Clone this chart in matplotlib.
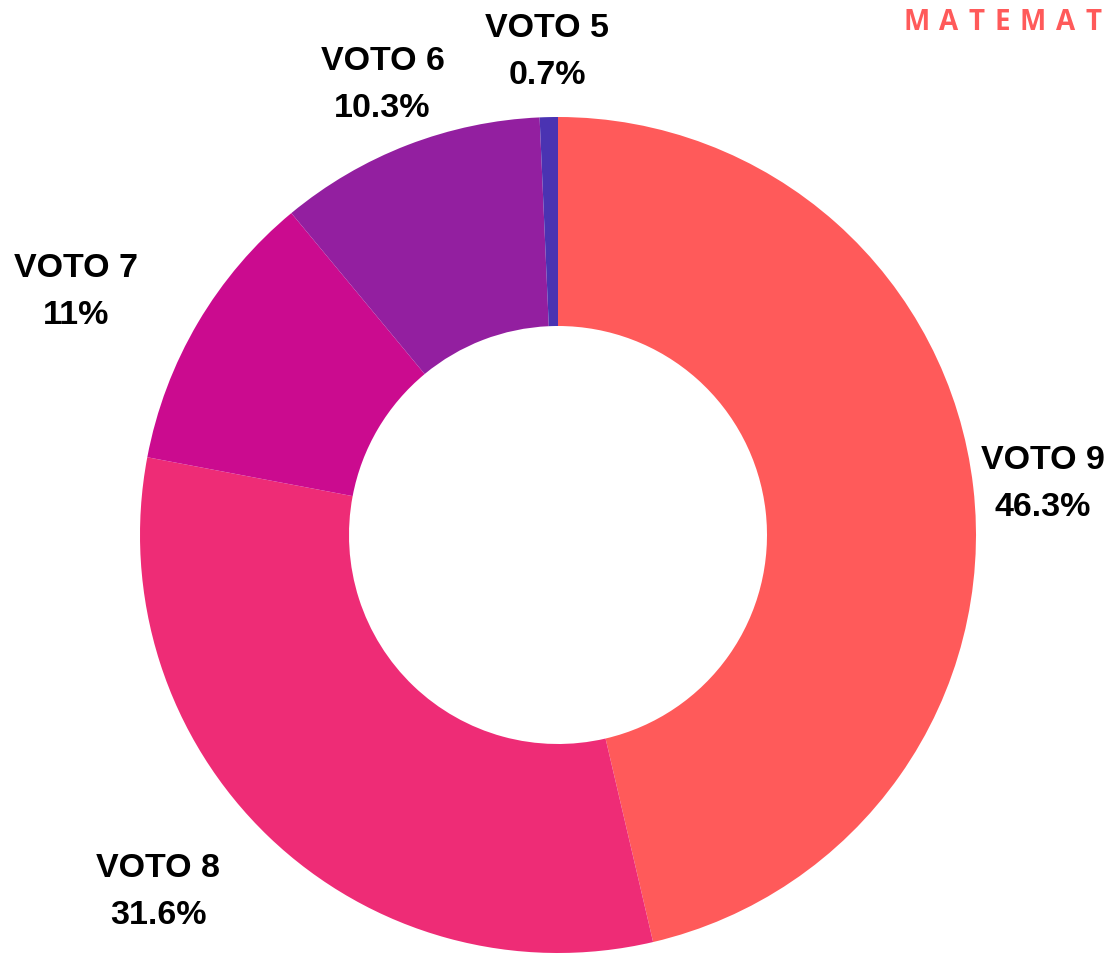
import numpy as np
import matplotlib
matplotlib.use("Agg")
import matplotlib.pyplot as plt

labels = ["VOTO 9", "VOTO 8", "VOTO 7", "VOTO 6", "VOTO 5"]
values = [46.3, 31.6, 11, 10.3, 0.7]
pct_text = ["46.3%", "31.6%", "11%", "10.3%", "0.7%"]
colors = ["#FF5A5A", "#EE2C76", "#CB0B8F", "#931FA0", "#4A33B2"]
brand = "MATEMAT"

W, H = 1110, 955
cx, cy = 558, 535          # ring centre in pixels (from top-left)
R = 418

fig = plt.figure(figsize=(W / 100, H / 100), dpi=100)
ax = fig.add_axes([0, 0, 1, 1])
ax.set_aspect("equal")
ax.axis("off")

wedges, _ = ax.pie(values, colors=colors, startangle=90, counterclock=False,
                   radius=R, wedgeprops=dict(width=R * 0.5, linewidth=0))
ax.set_xlim(-cx, W - cx)
ax.set_ylim(-(H - cy), cy)

# labels outside the ring, 70px past the edge
for w, lab, pct in zip(wedges, labels, pct_text):
    ang = np.deg2rad((w.theta1 + w.theta2) / 2)
    c, s = np.cos(ang), np.sin(ang)
    x, y = (R + 70) * c, (R + 70) * s - 5
    ha = "right" if c < -0.5 else "center"
    ax.text(x, y, f"{lab}\n{pct}", ha=ha, va="center", multialignment="center",
            fontsize=24.5, fontweight="bold", family="Liberation Sans",
            color="black", linespacing=1.68)

# letter-spaced brand text in the top right corner
renderer = fig.canvas.get_renderer()
x = 903
for ch in brand:
    t = fig.text(x / W, 1 - 22 / H, ch, ha="left", va="center",
                 fontsize=20, fontweight="bold", family="Open Sans", color="#FF5A5A")
    x = t.get_window_extent(renderer).x1 + 10

fig.savefig("out.png", dpi=100)
